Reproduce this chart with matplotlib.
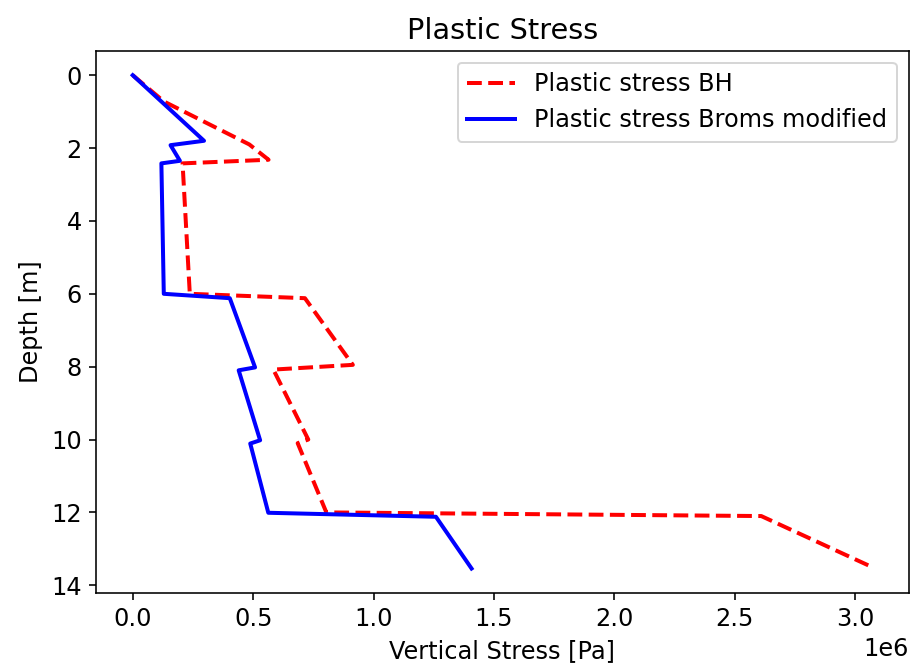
import matplotlib
matplotlib.use("Agg")
import matplotlib.pyplot as plt

# depth [m] and plastic stress [Pa]
depth_bh = [0.0, 0.72, 1.9, 2.32, 2.42, 6.0, 6.12, 7.95, 8.08, 10.0, 10.1, 12.0, 12.1, 13.5]
stress_bh = [0.0, 0.129e6, 0.484e6, 0.564e6, 0.207e6, 0.237e6, 0.715e6, 0.914e6,
             0.584e6, 0.729e6, 0.685e6, 0.804e6, 2.61e6, 3.07e6]

depth_broms = [0.0, 1.8, 1.92, 2.35, 2.42, 6.0, 6.12, 8.02, 8.1, 10.02, 10.11, 12.01, 12.12, 13.54]
stress_broms = [0.0, 0.296e6, 0.157e6, 0.196e6, 0.119e6, 0.129e6, 0.403e6, 0.508e6,
                0.44e6, 0.529e6, 0.488e6, 0.563e6, 1.259e6, 1.407e6]

plt.rcParams['font.size'] = 12

fig, ax = plt.subplots(figsize=(912 / 144, 665 / 144), dpi=144)
plt.subplots_adjust(left=0.105, right=0.9967, top=0.924, bottom=0.108)

ax.plot(stress_bh, depth_bh, 'r--', linewidth=2, label='Plastic stress BH')
ax.plot(stress_broms, depth_broms, 'b-', linewidth=2, label='Plastic stress Broms modified')
ax.invert_yaxis()

ax.set_xlabel('Vertical Stress [Pa]')
ax.set_ylabel('Depth [m]')
ax.set_title('Plastic Stress')
ax.legend(loc='upper right')

fig.savefig('out.png', dpi=144)
